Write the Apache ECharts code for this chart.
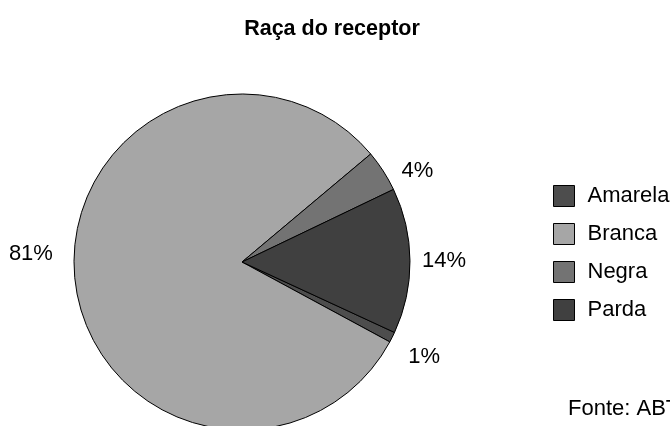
<!DOCTYPE html>
<html>
<head>
<meta charset="utf-8">
<script src="https://cdn.jsdelivr.net/npm/echarts@6/dist/echarts.min.js"></script>
<style>
html,body{margin:0;padding:0;background:#fff;}
#chart{width:670px;height:426px;}
</style>
</head>
<body>
<div id="chart"></div>
<script>
var categories = ['Amarela', 'Branca', 'Negra', 'Parda'];
var values = [1, 81, 4, 14];
var colors = ['#4d4d4d', '#a6a6a6', '#737373', '#404040'];

var pieData = [];
for (var i = 0; i < categories.length; i++) {
    pieData.push({value: values[i], name: categories[i]});
}

// small nudges so the labels sit where the original spreadsheet put them
var labelNudge = [[0, 15], [-5, -26], [3, 5], [-5, 0]];

var font = 'Liberation Sans, Arial, sans-serif';

var option = {
    animation: false,
    color: colors,
    textStyle: {fontFamily: font},
    title: {
        text: 'Raça do receptor',
        left: 327,
        textAlign: 'center',
        top: 13,
        textStyle: {fontSize: 21.5, fontWeight: 'bold', color: '#000', fontFamily: font}
    },
    legend: {
        orient: 'vertical',
        left: 548,
        top: 180,
        itemWidth: 21,
        itemHeight: 21,
        itemGap: 16,
        icon: 'rect',
        itemStyle: {borderColor: '#000', borderWidth: 1},
        textStyle: {fontSize: 22, color: '#000', padding: [0, 0, 0, 8]},
        data: categories
    },
    graphic: [{
        type: 'text',
        left: 568,
        top: 398,
        style: {text: 'Fonte: ABTO', fontSize: 22, fill: '#000', fontFamily: font}
    }],
    series: [{
        type: 'pie',
        center: [242, 262],
        radius: 168,
        startAngle: 335.2,
        clockwise: true,
        silent: true,
        itemStyle: {borderColor: '#000', borderWidth: 1},
        label: {
            show: true,
            position: 'outside',
            formatter: '{d}%',
            fontSize: 22,
            color: '#000'
        },
        labelLine: {show: false, length: 10, length2: 2},
        labelLayout: function (p) {
            var n = labelNudge[p.dataIndex];
            return {dx: n[0], dy: n[1]};
        },
        data: pieData
    }]
};

var myChart = echarts.init(document.getElementById('chart'));
myChart.setOption(option);
</script>
</body>
</html>
